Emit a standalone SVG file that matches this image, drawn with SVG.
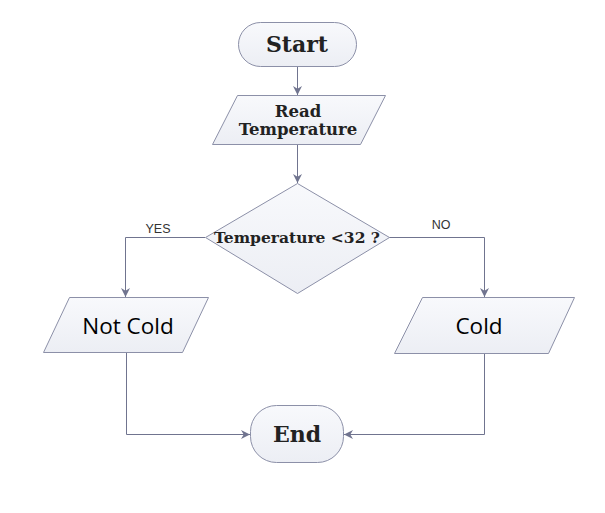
<svg xmlns="http://www.w3.org/2000/svg" width="605" height="513" viewBox="0 0 605 513">
<defs>
<linearGradient id="g" x1="0" y1="0" x2="0" y2="1">
<stop offset="0" stop-color="#f8f9fc"/>
<stop offset="1" stop-color="#eceef4"/>
</linearGradient>
<marker id="arr" viewBox="0 0 10 10" refX="10" refY="5" markerWidth="9" markerHeight="9" markerUnits="userSpaceOnUse" orient="auto">
<path d="M0,0 L10,5 L0,10 L3,5 Z" fill="#70748f"/>
</marker>
</defs>
<style>
.shape{fill:url(#g);stroke:#8c90a8;stroke-width:1}
.slab{font-family:"DejaVu Serif",serif;font-weight:bold;fill:#222;text-anchor:middle}
.sans{font-family:"Open Sans","Noto Sans",sans-serif;fill:#000;text-anchor:middle}
.lbl{font-family:"Liberation Sans",Arial,sans-serif;font-size:12.5px;fill:#333;text-anchor:middle}
.conn{fill:none;stroke:#70748f;stroke-width:1;marker-end:url(#arr)}
</style>
<rect width="605" height="513" fill="#ffffff"/>
<g id="connectors">
<path class="conn" d="M297.5,67 V95"/>
<path class="conn" d="M297.5,145 V183"/>
<path class="conn" d="M205,237.5 H125.5 V297"/>
<path class="conn" d="M389,237.5 H484.5 V297"/>
<path class="conn" d="M126.5,352 V434.5 H250"/>
<path class="conn" d="M484.5,353 V434.5 H344"/>
<text class="lbl" x="158" y="233">YES</text>
<text class="lbl" x="441" y="229">NO</text>
</g>
<g id="start">
<rect class="shape" x="238.5" y="22.5" width="118" height="44" rx="22"/>
<text class="slab" x="297" y="52" font-size="22">Start</text>
</g>
<g id="read">
<polygon class="shape" points="237.5,95.5 385.5,95.5 360.5,144.5 212.5,144.5"/>
<text class="slab" x="298" y="117" font-size="16.5">Read</text>
<text class="slab" x="298" y="135" font-size="16.5">Temperature</text>
</g>
<g id="decision">
<polygon class="shape" points="297.5,183.5 389.5,237.5 297.5,293.5 205.5,237.5"/>
<text class="slab" x="297" y="243" font-size="15.5">Temperature &lt;32 ?</text>
</g>
<g id="notcold">
<polygon class="shape" points="69.5,297.5 208.5,297.5 182.5,352.5 43.5,352.5"/>
<text class="sans" x="128" y="334" font-size="22.5">Not Cold</text>
</g>
<g id="cold">
<polygon class="shape" points="422.5,297.5 574.5,297.5 548.5,353.5 394.5,353.5"/>
<text class="sans" x="479" y="334" font-size="22.5">Cold</text>
</g>
<g id="end">
<rect class="shape" x="250.5" y="405.5" width="93" height="57" rx="26"/>
<text class="slab" x="297" y="442" font-size="22">End</text>
</g>
</svg>
